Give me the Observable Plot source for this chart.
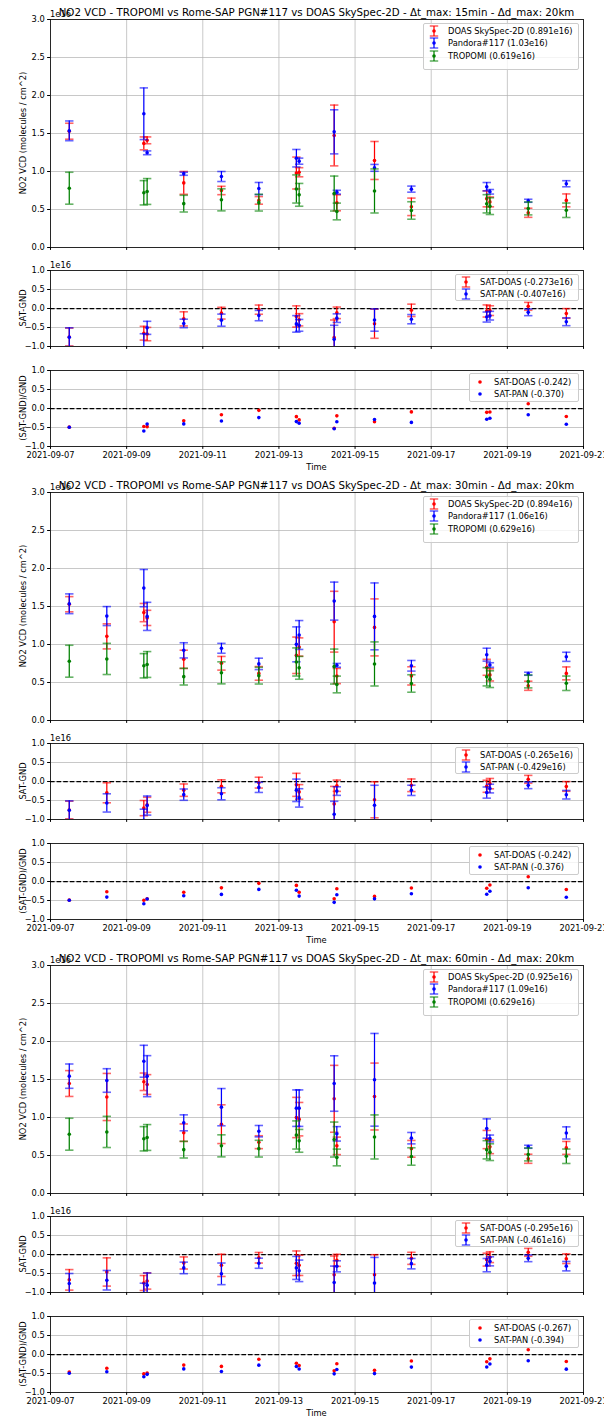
<!DOCTYPE html>
<html><head><meta charset="utf-8">
<script src="https://cdn.jsdelivr.net/npm/d3@7"></script>
<script src="https://cdn.jsdelivr.net/npm/@observablehq/plot@0.6"></script>
<style>
html,body{margin:0;padding:0;background:#fff;}
#root{position:relative;width:604px;height:1418px;overflow:hidden;font-family:"DejaVu Sans",sans-serif;color:#000;}
#root svg{position:absolute;left:0;}
.t{position:absolute;white-space:nowrap;line-height:1;}
.lg{position:absolute;border:1px solid #cccccc;border-radius:2px;background:rgba(255,255,255,0.8);box-sizing:border-box;}
</style></head>
<body><div id="root"></div>
<script>
// ---------------- data (values in 1e16 molecules/cm^2) ----------------
const overpassTimes = ["2021-09-07T11:50Z","2021-09-08T11:30Z","2021-09-09T10:50Z","2021-09-09T12:55Z","2021-09-10T12:00Z","2021-09-11T11:45Z","2021-09-12T11:20Z","2021-09-13T11:00Z","2021-09-13T12:45Z","2021-09-14T10:50Z","2021-09-14T12:30Z","2021-09-15T12:15Z","2021-09-16T11:30Z","2021-09-18T11:00Z","2021-09-18T13:00Z","2021-09-19T13:10Z","2021-09-20T13:10Z"];
const tropomiVcd = [0.78,0.81,0.72,0.737,0.577,0.627,0.59,0.77,0.693,0.71,0.474,0.744,0.487,0.575,0.544,0.514,0.49];
const tropomiErr = [0.21,0.205,0.16,0.17,0.11,0.145,0.11,0.185,0.15,0.23,0.11,0.29,0.115,0.12,0.11,0.085,0.095];

const pandora15    = [1.535,null,1.76,1.246,0.97,0.934,0.776,1.175,1.136,1.522,0.728,1.048,0.768,0.80,0.733,0.615,0.839];
const pandoraErr15 = [0.13,null,0.34,0.025,0.02,0.066,0.08,0.115,0.04,0.29,0.025,0.045,0.04,0.055,0.03,0.02,0.04];
const doas15       = [1.53,null,1.37,1.41,0.85,0.75,0.62,0.98,0.99,1.474,0.588,1.145,0.535,0.64,0.60,0.457,0.62];
const doasErr15    = [0.105,null,0.085,0.045,0.15,0.055,0.05,0.21,0.06,0.40,0.105,0.25,0.115,0.105,0.065,0.06,0.085];

const pandora30    = [1.536,1.374,1.742,1.37,0.923,0.95,0.745,1.002,1.125,1.571,0.726,1.37,0.72,0.866,0.73,0.615,0.838];
const pandoraErr30 = [0.13,0.125,0.245,0.185,0.10,0.065,0.075,0.23,0.19,0.25,0.025,0.44,0.07,0.085,0.03,0.02,0.06];
const doas30       = [1.53,1.107,1.42,1.35,0.805,0.753,0.62,0.858,0.967,1.30,0.585,1.225,0.587,0.70,0.60,0.457,0.62];
const doasErr30    = [0.10,0.165,0.12,0.10,0.12,0.09,0.09,0.24,0.12,0.40,0.10,0.375,0.12,0.105,0.08,0.06,0.085];

const pandora60    = [1.544,1.487,1.74,1.544,0.93,1.136,0.82,1.123,1.123,1.447,0.785,1.496,0.728,0.855,0.724,0.615,0.797];
const pandoraErr60 = [0.16,0.155,0.21,0.27,0.105,0.245,0.075,0.24,0.24,0.365,0.095,0.61,0.075,0.127,0.045,0.02,0.08];
const doas60       = [1.447,1.27,1.47,1.434,0.80,0.912,0.675,1.0,0.978,1.246,0.627,1.276,0.588,0.71,0.614,0.457,0.60];
const doasErr60    = [0.17,0.31,0.115,0.13,0.115,0.255,0.085,0.265,0.22,0.44,0.115,0.44,0.11,0.12,0.09,0.06,0.085];

const timeWindows = ["15min","30min","60min"];
const legendMain = [
  ["DOAS SkySpec-2D (0.891e16)","Pandora#117 (1.03e16)","TROPOMI (0.619e16)"],
  ["DOAS SkySpec-2D (0.894e16)","Pandora#117 (1.06e16)","TROPOMI (0.629e16)"],
  ["DOAS SkySpec-2D (0.925e16)","Pandora#117 (1.09e16)","TROPOMI (0.629e16)"]];
const legendDiff = [
  ["SAT-DOAS (-0.273e16)","SAT-PAN (-0.407e16)"],
  ["SAT-DOAS (-0.265e16)","SAT-PAN (-0.429e16)"],
  ["SAT-DOAS (-0.295e16)","SAT-PAN (-0.461e16)"]];
const legendRel = [
  ["SAT-DOAS (-0.242)","SAT-PAN (-0.370)"],
  ["SAT-DOAS (-0.242)","SAT-PAN (-0.376)"],
  ["SAT-DOAS (-0.267)","SAT-PAN (-0.394)"]];
const xTickDates = ["2021-09-07","2021-09-09","2021-09-11","2021-09-13","2021-09-15","2021-09-17","2021-09-19","2021-09-21"];
const vcdTicks = [0,0.5,1,1.5,2,2.5,3];
const diffTicks = [-1,-0.5,0,0.5,1];

// ---------------- drawing ----------------
const root = document.getElementById("root");
const FS = 8.3;
const RED = "#ff0000", BLUE = "#0000ff", GREEN = "#008000";
const capSym = {draw(ctx, size){const r = Math.sqrt(size/Math.PI); ctx.moveTo(-r,0); ctx.lineTo(r,0);}};
const xDomain = [new Date("2021-09-07T00:00Z"), new Date("2021-09-21T00:00Z")];
const xTicks = xTickDates.map(s => new Date(s + "T00:00Z"));

function errMarks(rows, color, yk, ek) {
  return [
    Plot.ruleX(rows, {x:"t", y1:d=>d[yk]-d[ek], y2:d=>d[yk]+d[ek], stroke:color, strokeWidth:1.25, clip:true}),
    Plot.dot(rows, {x:"t", y:d=>d[yk]-d[ek], symbol:capSym, r:4.2, fill:"none", stroke:color, strokeWidth:1.6, strokeOpacity:0.6, clip:true}),
    Plot.dot(rows, {x:"t", y:d=>d[yk]+d[ek], symbol:capSym, r:4.2, fill:"none", stroke:color, strokeWidth:1.6, strokeOpacity:0.6, clip:true}),
    Plot.dot(rows, {x:"t", y:yk, r:1.8, fill:color, stroke:"none", clip:true})
  ];
}

function panel(top, h, yDomain, yTicks, marks, showX) {
  const mt = 8, mb = showX ? 26 : 8;
  const svg = Plot.plot({
    width: 604, height: h + mt + mb, marginTop: mt, marginBottom: mb, marginLeft: 50, marginRight: 21,
    style: {background:"transparent", fontFamily:"DejaVu Sans, sans-serif", fontSize: FS + "px", color:"#000", overflow:"visible"},
    x: {type:"utc", domain:xDomain},
    y: {domain:yDomain},
    marks: [
      Plot.gridX(xTicks, {stroke:"#b0b0b0", strokeOpacity:1, strokeWidth:0.7}),
      Plot.gridY(yTicks, {stroke:"#b0b0b0", strokeOpacity:1, strokeWidth:0.7}),
      ...marks,
      Plot.frame({stroke:"#000", strokeWidth:0.8}),
      Plot.axisX(xTicks, {tickSize:2.9, tickPadding:2.8, tickFormat: showX ? d3.utcFormat("%Y-%m-%d") : () => "", label:null}),
      Plot.axisY(yTicks, {tickSize:2.9, tickPadding:2.8, tickFormat: d3.format(".1f"), label:null})
    ]
  });
  svg.style.top = (top - mt) + "px";
  root.appendChild(svg);
}

function text(txt, x, y, {size=FS, anchor="middle", rotate=0}={}) {
  const d = document.createElement("div");
  d.className = "t";
  d.textContent = txt;
  d.style.left = x + "px"; d.style.top = y + "px"; d.style.fontSize = size + "px";
  const tx = anchor === "middle" ? "-50%" : anchor === "end" ? "-100%" : "0";
  d.style.transform = `translate(${tx},-50%)` + (rotate ? ` rotate(${rotate}deg)` : "");
  root.appendChild(d);
}

function legend(left, top, right, bottom, items) {
  const box = document.createElement("div");
  box.className = "lg";
  box.style.left = left + "px"; box.style.top = top + "px";
  box.style.width = (right - left) + "px"; box.style.height = (bottom - top) + "px";
  root.appendChild(box);
  for (const it of items) {
    const ns = "http://www.w3.org/2000/svg";
    const s = document.createElementNS(ns, "svg");
    s.setAttribute("width", 20); s.setAttribute("height", 16);
    s.style.position = "absolute"; s.style.left = (left + 1) + "px"; s.style.top = (it.y - 8) + "px";
    let inner = "";
    if (it.kind === "err") {
      inner += `<line x1="10" x2="10" y1="3" y2="13" stroke="${it.color}" stroke-width="1.25"/>`;
      inner += `<line x1="5.8" x2="14.2" y1="3" y2="3" stroke="${it.color}" stroke-width="1.6" stroke-opacity="0.6"/>`;
      inner += `<line x1="5.8" x2="14.2" y1="13" y2="13" stroke="${it.color}" stroke-width="1.6" stroke-opacity="0.6"/>`;
    }
    inner += `<circle cx="10" cy="8" r="1.8" fill="${it.color}"/>`;
    s.innerHTML = inner;
    root.appendChild(s);
    text(it.label, left + 25, it.y, {anchor:"start"});
  }
}

const blocks = [
  {pan:pandora15, panE:pandoraErr15, doas:doas15, doasE:doasErr15},
  {pan:pandora30, panE:pandoraErr30, doas:doas30, doasE:doasErr30},
  {pan:pandora60, panE:pandoraErr60, doas:doas60, doasE:doasErr60}];

blocks.forEach((b, k) => {
  const off = k * 473;
  const rows = overpassTimes.map((t, i) => ({
    t: new Date(t), sat: tropomiVcd[i], satE: tropomiErr[i],
    pan: b.pan[i], panE: b.panE[i], doas: b.doas[i], doasE: b.doasE[i]
  })).filter(d => d.pan != null);
  for (const d of rows) {
    d.dD = d.sat - d.doas; d.dDE = Math.hypot(d.satE, d.doasE);
    d.dP = d.sat - d.pan;  d.dPE = Math.hypot(d.satE, d.panE);
    d.rD = d.dD / d.doas;  d.rP = d.dP / d.pan;
  }
  const zero = Plot.ruleY([0], {stroke:"#000", strokeWidth:1.25, strokeDasharray:"4.6,2"});

  // main VCD panel
  panel(19 + off, 228, [0, 3], vcdTicks, [
    ...errMarks(rows, RED, "doas", "doasE"),
    ...errMarks(rows, BLUE, "pan", "panE"),
    ...errMarks(rows, GREEN, "sat", "satE")
  ], false);
  // SAT-GND
  panel(270 + off, 76, [-1, 1], diffTicks, [
    zero,
    ...errMarks(rows, RED, "dD", "dDE"),
    ...errMarks(rows, BLUE, "dP", "dPE")
  ], false);
  // (SAT-GND)/GND
  panel(370 + off, 76, [-1, 1], diffTicks, [
    zero,
    Plot.dot(rows, {x:"t", y:"rD", r:1.8, fill:RED, clip:true}),
    Plot.dot(rows, {x:"t", y:"rP", r:1.8, fill:BLUE, clip:true})
  ], true);

  // texts
  text(`NO2 VCD - TROPOMI vs Rome-SAP PGN#117 vs DOAS SkySpec-2D - Δt_max: ${timeWindows[k]} - Δd_max: 20km`, 316.5, 11.5 + off, {size:10.25});
  text("1e16", 50, 14 + off, {anchor:"start"});
  text("1e16", 50, 265 + off, {anchor:"start"});
  text("NO2 VCD (molecules / cm^2)", 23, 133 + off, {rotate:-90});
  text("SAT-GND", 23, 308 + off, {rotate:-90});
  text("(SAT-GND)/GND", 23, 408 + off, {rotate:-90});
  text("Time", 316.5, 466.5 + off);

  legend(423, 22.5 + off, 579, 70 + off, [
    {kind:"err", color:RED, label:legendMain[k][0], y:30.5 + off},
    {kind:"err", color:BLUE, label:legendMain[k][1], y:43.3 + off},
    {kind:"err", color:GREEN, label:legendMain[k][2], y:56.1 + off}]);
  legend(455, 274 + off, 579, 301 + off, [
    {kind:"err", color:RED, label:legendDiff[k][0], y:282 + off},
    {kind:"err", color:BLUE, label:legendDiff[k][1], y:294 + off}]);
  legend(469, 373 + off, 579, 402 + off, [
    {kind:"dot", color:RED, label:legendRel[k][0], y:382 + off},
    {kind:"dot", color:BLUE, label:legendRel[k][1], y:394 + off}]);
});
</script></body></html>
